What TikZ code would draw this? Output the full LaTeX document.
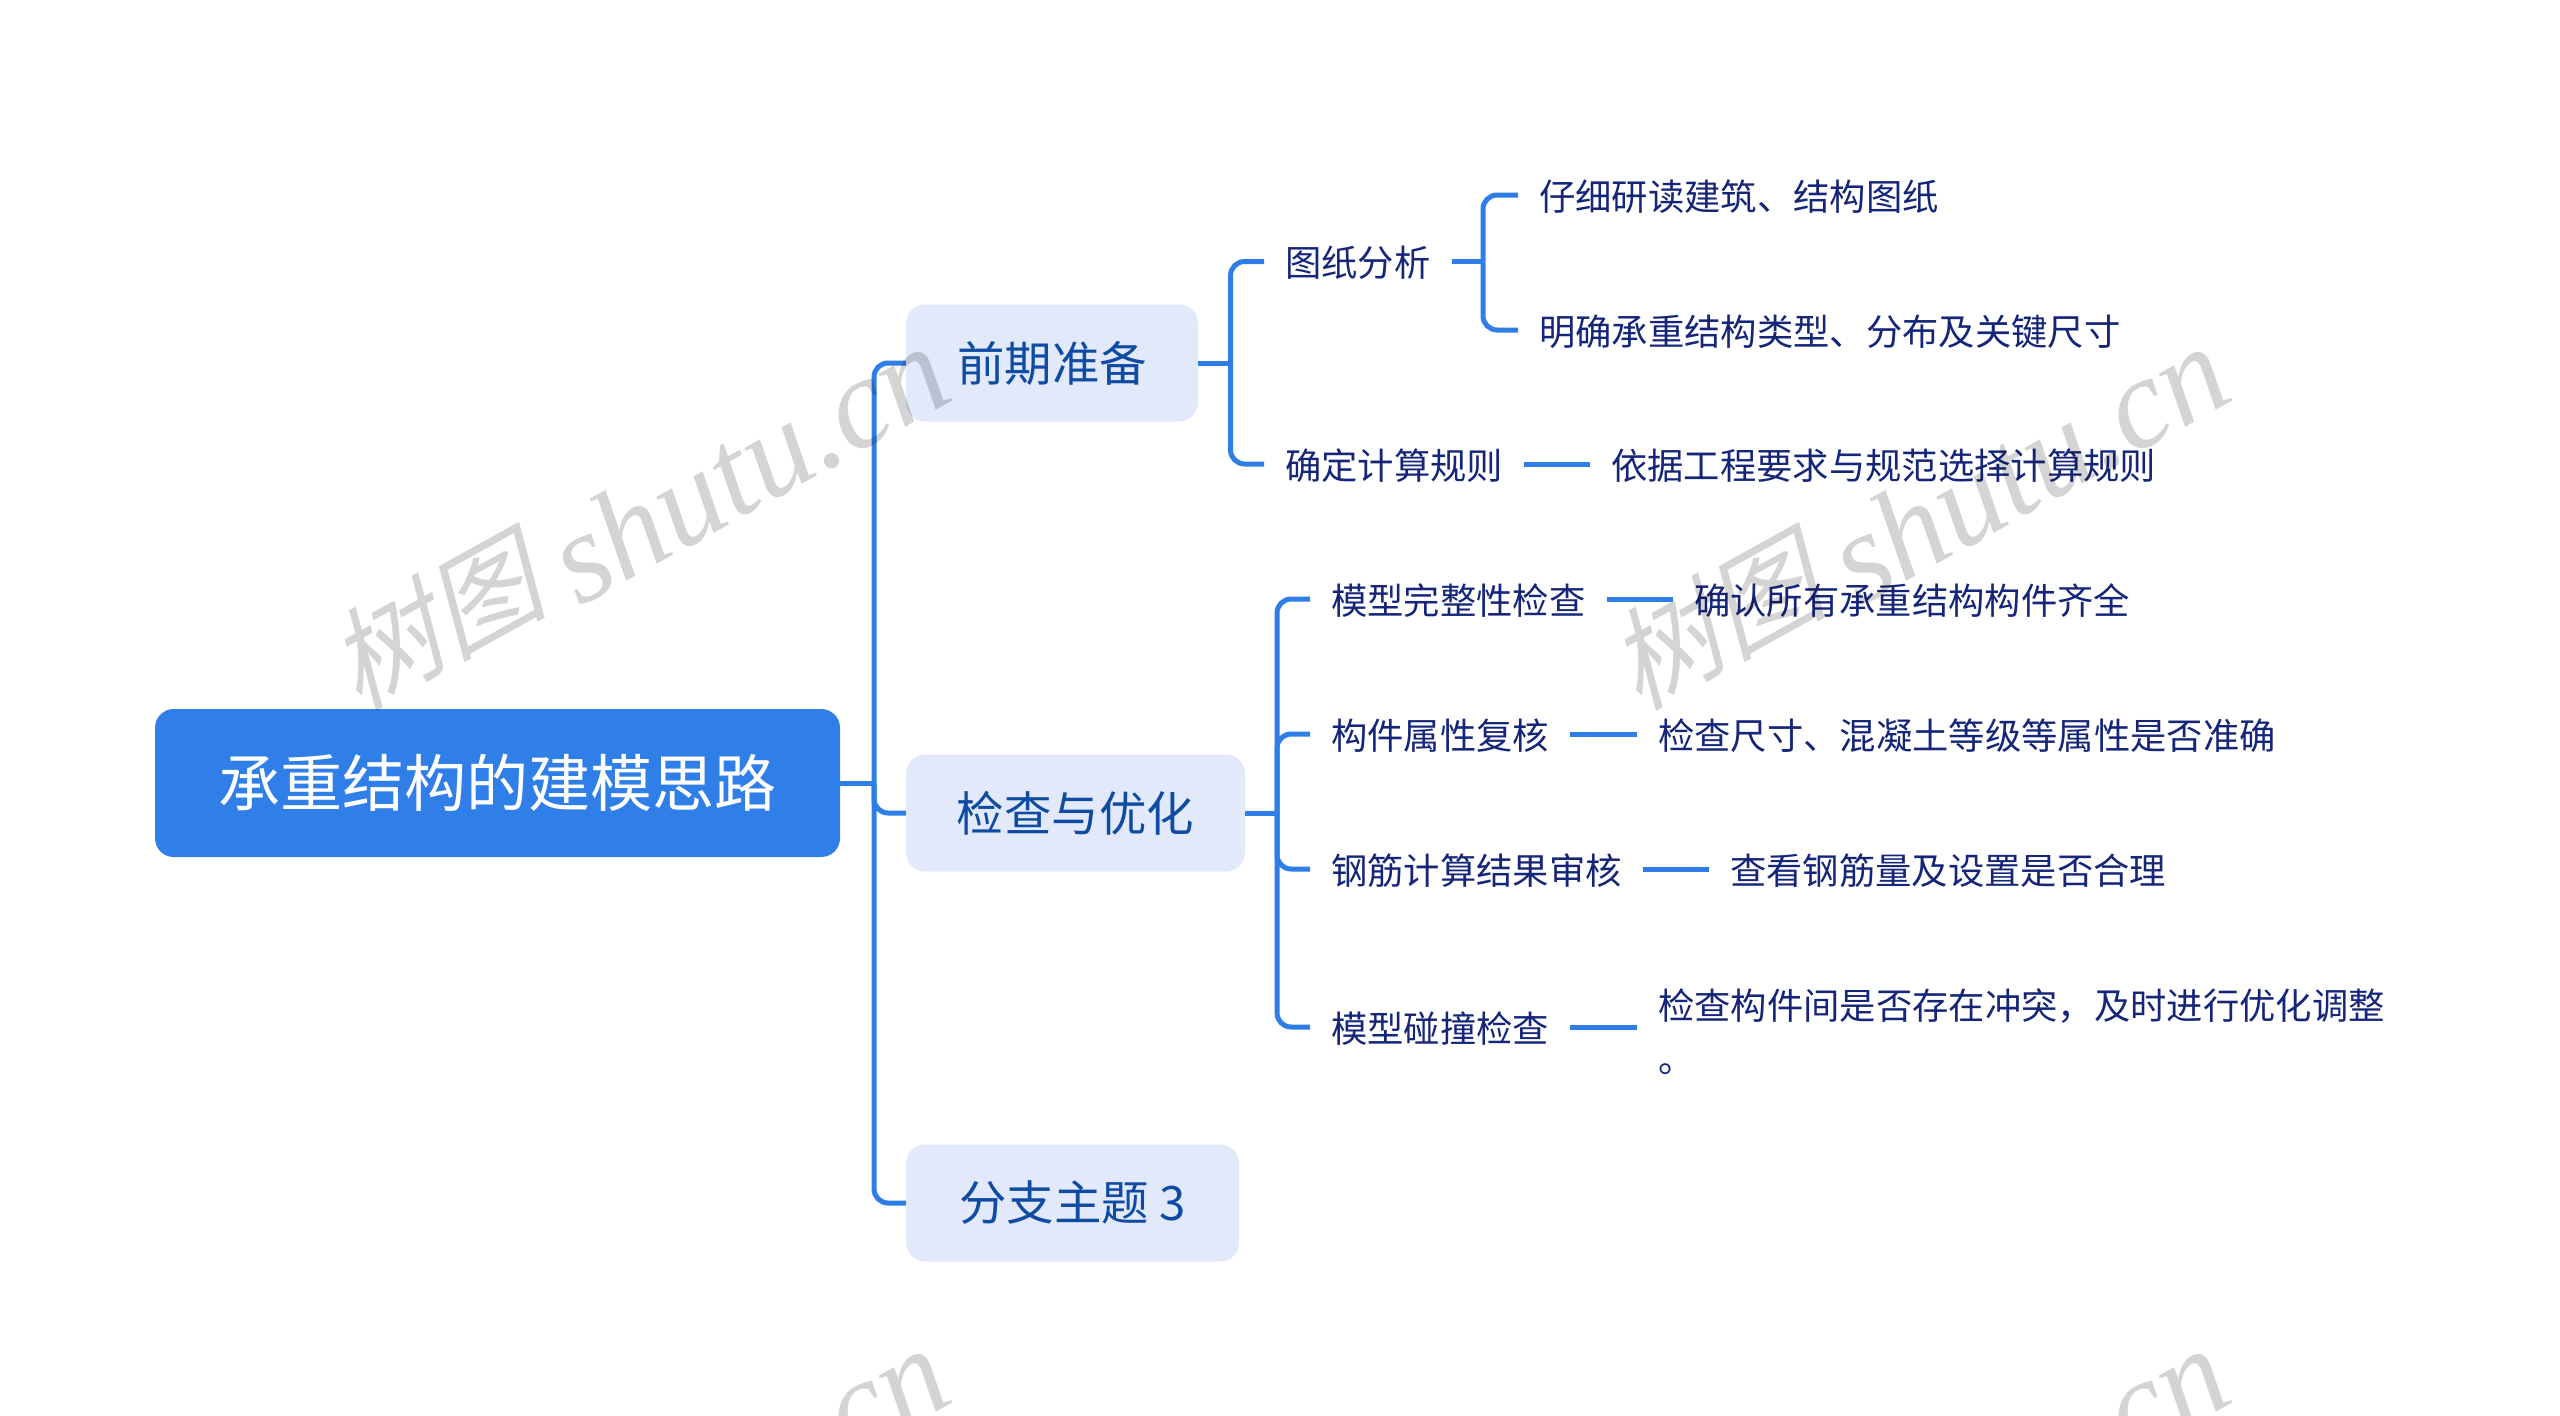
\documentclass[tikz,border=0pt]{standalone}
\usepackage{fontspec}
\setmainfont{Noto Sans CJK SC}
\newfontfamily\markcjk[FakeSlant=0.25]{Noto Sans CJK SC}
\newfontfamily\marklatin{Liberation Serif}

\definecolor{linkblue}{HTML}{2F7DE6}
\definecolor{rootblue}{HTML}{307FE8}
\definecolor{branchfill}{HTML}{E2E9FB}
\definecolor{branchtext}{HTML}{0F4BA3}
\definecolor{leaftext}{HTML}{15257A}
\definecolor{markgray}{HTML}{D4D4D4}

\tikzset{
	rootbox/.style={fill=rootblue, text=white, rounded corners=16pt, minimum width=685*0.03cm, minimum height=148*0.03cm, inner sep=0pt, font=\fontsize{53}{60}\selectfont},
	branchbox/.style={fill=branchfill, text=branchtext, rounded corners=16pt, minimum height=117*0.03cm, inner sep=0pt, font=\fontsize{40.5}{46}\selectfont},
	leaf/.style={anchor=west, text=leaftext, inner xsep=21*0.03cm, inner ysep=0pt, align=left, text height=30pt, text depth=4.4pt, font=\fontsize{31}{44.5}\selectfont},
	link/.style={draw=linkblue, line width=5*0.03cm, rounded corners=12pt},
	watermark/.style={text=markgray, rotate=29, inner sep=0pt}
}

\begin{document}
\begin{tikzpicture}[x=0.03cm, y=-0.03cm]
	\useasboundingbox (0,0) rectangle (2560,1415);

	% main topic and first level
	\node[rootbox] (root) at (497.5,783) {承重结构的建模思路};
	\node[branchbox, minimum width=292*0.03cm] (prep) at (1052,363) {前期准备};
	\node[branchbox, minimum width=339*0.03cm] (check) at (1075.5,813) {检查与优化};
	\node[branchbox, minimum width=333*0.03cm] (third) at (1072.5,1203) {分支主题 3};

	% second level
	\node[leaf] (draw) at (1264,261.5) {图纸分析};
	\node[leaf] (rule) at (1264,464) {确定计算规则};
	\node[leaf] (whole) at (1310,599) {模型完整性检查};
	\node[leaf] (attr) at (1310,734) {构件属性复核};
	\node[leaf] (rebar) at (1310,869) {钢筋计算结果审核};
	\node[leaf] (clash) at (1310,1027) {模型碰撞检查};

	% third level
	\node[leaf] (read) at (1518,195) {仔细研读建筑、结构图纸};
	\node[leaf] (type) at (1518,330) {明确承重结构类型、分布及关键尺寸};
	\node[leaf] (ruletext) at (1590,464) {依据工程要求与规范选择计算规则};
	\node[leaf] (wholetext) at (1673,599) {确认所有承重结构构件齐全};
	\node[leaf] (attrtext) at (1637,734) {检查尺寸、混凝土等级等属性是否准确};
	\node[leaf] (rebartext) at (1709,869) {查看钢筋量及设置是否合理};
	\node[leaf] (clashtext) at (1637,1057) {检查构件间是否存在冲突，及时进行优化调整\\。};

	% joints of the brackets
	\coordinate (jroot) at (874,783);
	\coordinate (jprep) at (1230.5,363);
	\coordinate (jcheck) at (1277,813);
	\coordinate (jdraw) at (1483,261.5);

	\draw[link] (root.east) -- (jroot);
	\foreach \a in {prep,check,third} {
		\draw[link] (jroot) |- (\a.west);
	}
	\draw[link] (prep.east) -- (jprep);
	\foreach \a in {draw,rule} {
		\draw[link] (jprep) |- (\a.west);
	}
	\draw[link] (check.east) -- (jcheck);
	\foreach \a in {whole,attr,rebar,clash} {
		\draw[link] (jcheck) |- (\a.west);
	}
	\draw[link] (draw.east) -- (jdraw);
	\foreach \a in {read,type} {
		\draw[link] (jdraw) |- (\a.west);
	}
	\foreach \a/\b in {rule/ruletext,whole/wholetext,attr/attrtext,rebar/rebartext,clash/clashtext} {
		\draw[link] (\a.east) -- (\b.west |- \a.east);
	}

	% repeated site mark
	\begin{scope}[blend mode=multiply]
		\foreach \a/\x/\y in {1/636/515,2/1916/515,3/636/1517,4/1916/1517} {
			\node[watermark] (mark\a) at (\x,\y) {\raisebox{14pt}{\fontsize{94}{120}\markcjk 树图}\hspace{20pt}\fontsize{110}{120}\marklatin\itshape shutu.cn};
		}
	\end{scope}
\end{tikzpicture}
\end{document}
